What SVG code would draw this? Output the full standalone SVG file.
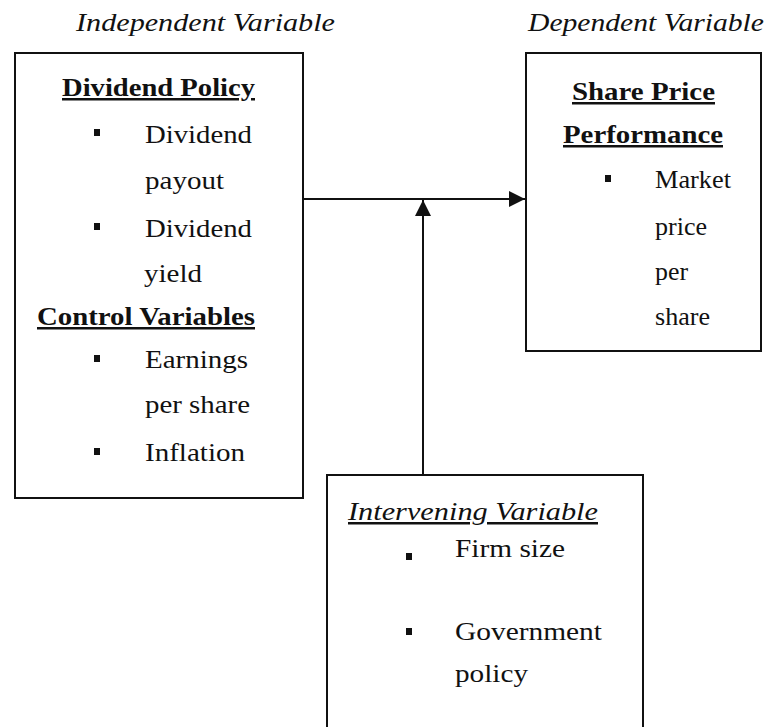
<svg xmlns="http://www.w3.org/2000/svg" width="770" height="727" viewBox="0 0 770 727">
<defs>
<style>
.box{fill:#fff;stroke:#111;stroke-width:2}
.t{font-family:Liberation Serif,Times New Roman,serif;font-size:25px;fill:#111}
.b{font-weight:bold;text-decoration:underline}
.i{font-style:italic}
.bul{fill:#111}
.ln{stroke:#111;stroke-width:2;fill:none}
</style>
<marker id="ah" viewBox="0 0 10 10" refX="10" refY="5" markerWidth="17" markerHeight="16" markerUnits="userSpaceOnUse" orient="auto">
<path d="M0,0 L10,5 L0,10 Z" fill="#111"/>
</marker>
</defs>
<rect width="770" height="727" fill="#fff"/>
<text class="t i" x="76" y="31" textLength="259" lengthAdjust="spacingAndGlyphs">Independent Variable</text>
<text class="t i" x="528" y="31" textLength="236" lengthAdjust="spacingAndGlyphs">Dependent Variable</text>
<g id="independent">
<rect class="box" x="15" y="53" width="288" height="445"/>
<text class="t b" x="62" y="96" textLength="193" lengthAdjust="spacingAndGlyphs">Dividend Policy</text>
<rect class="bul" x="94" y="129" width="6" height="7"/>
<text class="t" x="145" y="143" textLength="107" lengthAdjust="spacingAndGlyphs">Dividend</text>
<text class="t" x="145" y="189" textLength="79" lengthAdjust="spacingAndGlyphs">payout</text>
<rect class="bul" x="94" y="223" width="6" height="7"/>
<text class="t" x="145" y="237" textLength="107" lengthAdjust="spacingAndGlyphs">Dividend</text>
<text class="t" x="144" y="282" textLength="58" lengthAdjust="spacingAndGlyphs">yield</text>
<text class="t b" x="37" y="325" textLength="218" lengthAdjust="spacingAndGlyphs">Control Variables</text>
<rect class="bul" x="94" y="355" width="6" height="7"/>
<text class="t" x="145" y="368" textLength="103" lengthAdjust="spacingAndGlyphs">Earnings</text>
<text class="t" x="145" y="413" textLength="105" lengthAdjust="spacingAndGlyphs">per share</text>
<rect class="bul" x="94" y="448" width="6" height="7"/>
<text class="t" x="145" y="461" textLength="100" lengthAdjust="spacingAndGlyphs">Inflation</text>
</g>
<g id="dependent">
<rect class="box" x="526" y="53" width="235" height="298"/>
<text class="t b" x="572" y="100" textLength="143" lengthAdjust="spacingAndGlyphs">Share Price</text>
<text class="t b" x="563" y="143" textLength="160" lengthAdjust="spacingAndGlyphs">Performance</text>
<rect class="bul" x="605" y="175" width="6" height="7"/>
<text class="t" x="655" y="188" textLength="76" lengthAdjust="spacingAndGlyphs">Market</text>
<text class="t" x="655" y="235" textLength="52" lengthAdjust="spacingAndGlyphs">price</text>
<text class="t" x="655" y="280" textLength="33" lengthAdjust="spacingAndGlyphs">per</text>
<text class="t" x="655" y="325" textLength="55" lengthAdjust="spacingAndGlyphs">share</text>
</g>
<g id="intervening">
<rect class="box" x="327" y="475" width="316" height="270"/>
<text class="t i" x="348" y="520" text-decoration="underline" textLength="250" lengthAdjust="spacingAndGlyphs">Intervening Variable</text>
<rect class="bul" x="406" y="553" width="6" height="7"/>
<text class="t" x="455" y="557" textLength="110" lengthAdjust="spacingAndGlyphs">Firm size</text>
<rect class="bul" x="406" y="628" width="6" height="7"/>
<text class="t" x="455" y="640" textLength="147" lengthAdjust="spacingAndGlyphs">Government</text>
<text class="t" x="455" y="682" textLength="73" lengthAdjust="spacingAndGlyphs">policy</text>
</g>
<g id="connectors">
<line class="ln" x1="303" y1="199" x2="525" y2="199" marker-end="url(#ah)"/>
<line class="ln" x1="423" y1="475" x2="423" y2="200" marker-end="url(#ah)"/>
</g>
</svg>
